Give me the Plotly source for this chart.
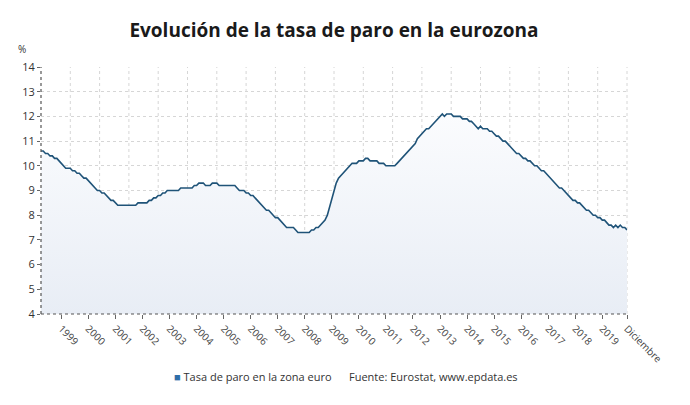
import pandas as pd
import plotly.graph_objects as go

# Monthly euro-area unemployment rate (%), April 1998 - December 2019
start_month = "1998-04-01"
v1998 = [10.6, 10.6, 10.5, 10.5, 10.4, 10.4, 10.3, 10.3, 10.2]  # Apr-Dec
v1999 = [10.1, 10.0, 9.9, 9.9, 9.9, 9.8, 9.8, 9.7, 9.7, 9.6, 9.5, 9.5]
v2000 = [9.4, 9.3, 9.2, 9.1, 9.0, 9.0, 8.9, 8.9, 8.8, 8.7, 8.6, 8.6]
v2001 = [8.5, 8.4, 8.4, 8.4, 8.4, 8.4, 8.4, 8.4, 8.4, 8.4, 8.5, 8.5]
v2002 = [8.5, 8.5, 8.5, 8.6, 8.6, 8.7, 8.7, 8.8, 8.8, 8.9, 8.9, 9.0]
v2003 = [9.0, 9.0, 9.0, 9.0, 9.0, 9.1, 9.1, 9.1, 9.1, 9.1, 9.1, 9.2]
v2004 = [9.2, 9.3, 9.3, 9.3, 9.2, 9.2, 9.2, 9.3, 9.3, 9.3, 9.2, 9.2]
v2005 = [9.2, 9.2, 9.2, 9.2, 9.2, 9.2, 9.1, 9.0, 9.0, 9.0, 8.9, 8.9]
v2006 = [8.8, 8.8, 8.7, 8.6, 8.5, 8.4, 8.3, 8.2, 8.2, 8.1, 8.0, 7.9]
v2007 = [7.9, 7.8, 7.7, 7.6, 7.5, 7.5, 7.5, 7.5, 7.4, 7.3, 7.3, 7.3]
v2008 = [7.3, 7.3, 7.3, 7.4, 7.4, 7.5, 7.5, 7.6, 7.7, 7.8, 8.0, 8.3]
v2009 = [8.7, 9.0, 9.3, 9.5, 9.6, 9.7, 9.8, 9.9, 10.0, 10.1, 10.1, 10.1]
v2010 = [10.2, 10.2, 10.2, 10.3, 10.3, 10.2, 10.2, 10.2, 10.2, 10.1, 10.1, 10.1]
v2011 = [10.0, 10.0, 10.0, 10.0, 10.0, 10.1, 10.2, 10.3, 10.4, 10.5, 10.6, 10.7]
v2012 = [10.8, 10.9, 11.1, 11.2, 11.3, 11.4, 11.5, 11.5, 11.6, 11.7, 11.8, 11.9]
v2013 = [12.0, 12.1, 12.0, 12.1, 12.1, 12.1, 12.0, 12.0, 12.0, 12.0, 11.9, 11.9]
v2014 = [11.9, 11.8, 11.8, 11.7, 11.6, 11.5, 11.6, 11.5, 11.5, 11.5, 11.4, 11.4]
v2015 = [11.3, 11.2, 11.2, 11.1, 11.0, 11.0, 10.9, 10.8, 10.7, 10.6, 10.5, 10.5]
v2016 = [10.4, 10.3, 10.3, 10.2, 10.2, 10.1, 10.0, 10.0, 9.9, 9.8, 9.8, 9.7]
v2017 = [9.6, 9.5, 9.4, 9.3, 9.2, 9.1, 9.1, 9.0, 8.9, 8.8, 8.7, 8.6]
v2018 = [8.6, 8.5, 8.5, 8.4, 8.3, 8.2, 8.2, 8.1, 8.0, 8.0, 7.9, 7.9]
v2019 = [7.8, 7.8, 7.7, 7.6, 7.6, 7.5, 7.6, 7.5, 7.6, 7.5, 7.5, 7.4]

values = (v1998 + v1999 + v2000 + v2001 + v2002 + v2003 + v2004 + v2005 + v2006
          + v2007 + v2008 + v2009 + v2010 + v2011 + v2012 + v2013 + v2014
          + v2015 + v2016 + v2017 + v2018 + v2019)
dates = pd.date_range(start_month, periods=len(values), freq="MS")

tick_years = list(range(1999, 2020))
tick_vals = [f"{y}-01-01" for y in tick_years] + ["2019-12-01"]
tick_text = [str(y) for y in tick_years] + ["Diciembre"]
y_ticks = list(range(4, 15))

series_name = "Tasa de paro en la zona euro"
title = "Evolución de la tasa de paro en la eurozona"
source = "Fuente: Eurostat, www.epdata.es"

LINE = "#1f5378"
SQUARE = "#2f6ea8"
GRID = "#d6d6d6"
FONT = "Open Sans"

fig = go.Figure()
fig.add_trace(go.Scatter(
    x=dates, y=values, mode="lines", showlegend=False, name=series_name,
    line=dict(color=LINE, width=1.6),
    fill="tozeroy",
    fillgradient=dict(type="vertical", start=4, stop=12.1,
                      colorscale=[[0, "#e8edf5"], [1, "#fbfcfe"]]),
))

shapes = []
for k in range(1, 21):
    shapes.append(dict(type="line", xref="paper", yref="paper", x0=k / 20, x1=k / 20,
                       y0=0, y1=1, line=dict(color=GRID, width=1, dash="dot"),
                       layer="below"))
shapes.append(dict(type="line", xref="paper", yref="paper", x0=0, x1=0, y0=0, y1=1,
                   line=dict(color="#555555", width=1.2, dash="dot"), layer="above"))
shapes.append(dict(type="line", xref="paper", yref="paper", x0=0, x1=1, y0=0, y1=0,
                   line=dict(color="#555555", width=1.2, dash="dot"), layer="above"))

fig.update_layout(
    width=690, height=405,
    margin=dict(l=41, r=63, t=67, b=91, autoexpand=False),
    paper_bgcolor="white", plot_bgcolor="white",
    font=dict(family=FONT, size=11, color="#333333"),
    showlegend=False,
    title=dict(text=f"<b>{title}</b>", x=0.5, xanchor="center", y=0.925, yanchor="middle",
               xref="paper",
               font=dict(family=FONT, size=19, color="#1a1a1a")),
    xaxis=dict(
        type="date", range=[dates[0], dates[-1]], automargin=False,
        tickmode="array", tickvals=tick_vals, ticktext=tick_text,
        tickangle=45, ticks="outside", ticklen=4, tickcolor="#666666",
        showgrid=False, zeroline=False, showline=False,
        tickfont=dict(size=10, color="#444444"),
    ),
    yaxis=dict(
        range=[4, 14], tickmode="array", tickvals=y_ticks, automargin=False,
        showgrid=True, gridcolor=GRID, griddash="dot", gridwidth=1,
        zeroline=False, showline=False, ticks="outside", ticklen=3,
        tickcolor="#666666", tickfont=dict(size=11, color="#333333"),
    ),
    shapes=shapes,
    annotations=[
        dict(text="%", xref="paper", yref="paper", x=-0.022, y=1.035, xanchor="right",
             yanchor="bottom", showarrow=False, font=dict(size=10, color="#333333")),
        dict(text=f"<span style='color:{SQUARE}'>■</span> {series_name}",
             xref="paper", yref="paper", x=(172 - 41) / 586, y=-0.255, xanchor="left",
             yanchor="middle", showarrow=False, font=dict(size=11, color="#333333")),
        dict(text=source, xref="paper", yref="paper", x=(347 - 41) / 586, y=-0.255,
             xanchor="left", yanchor="middle", showarrow=False,
             font=dict(size=11, color="#333333")),
    ],
    hovermode="x",
)

fig.write_html("out.html", config={"displayModeBar": False},
               post_script="document.body.style.margin='0';")
